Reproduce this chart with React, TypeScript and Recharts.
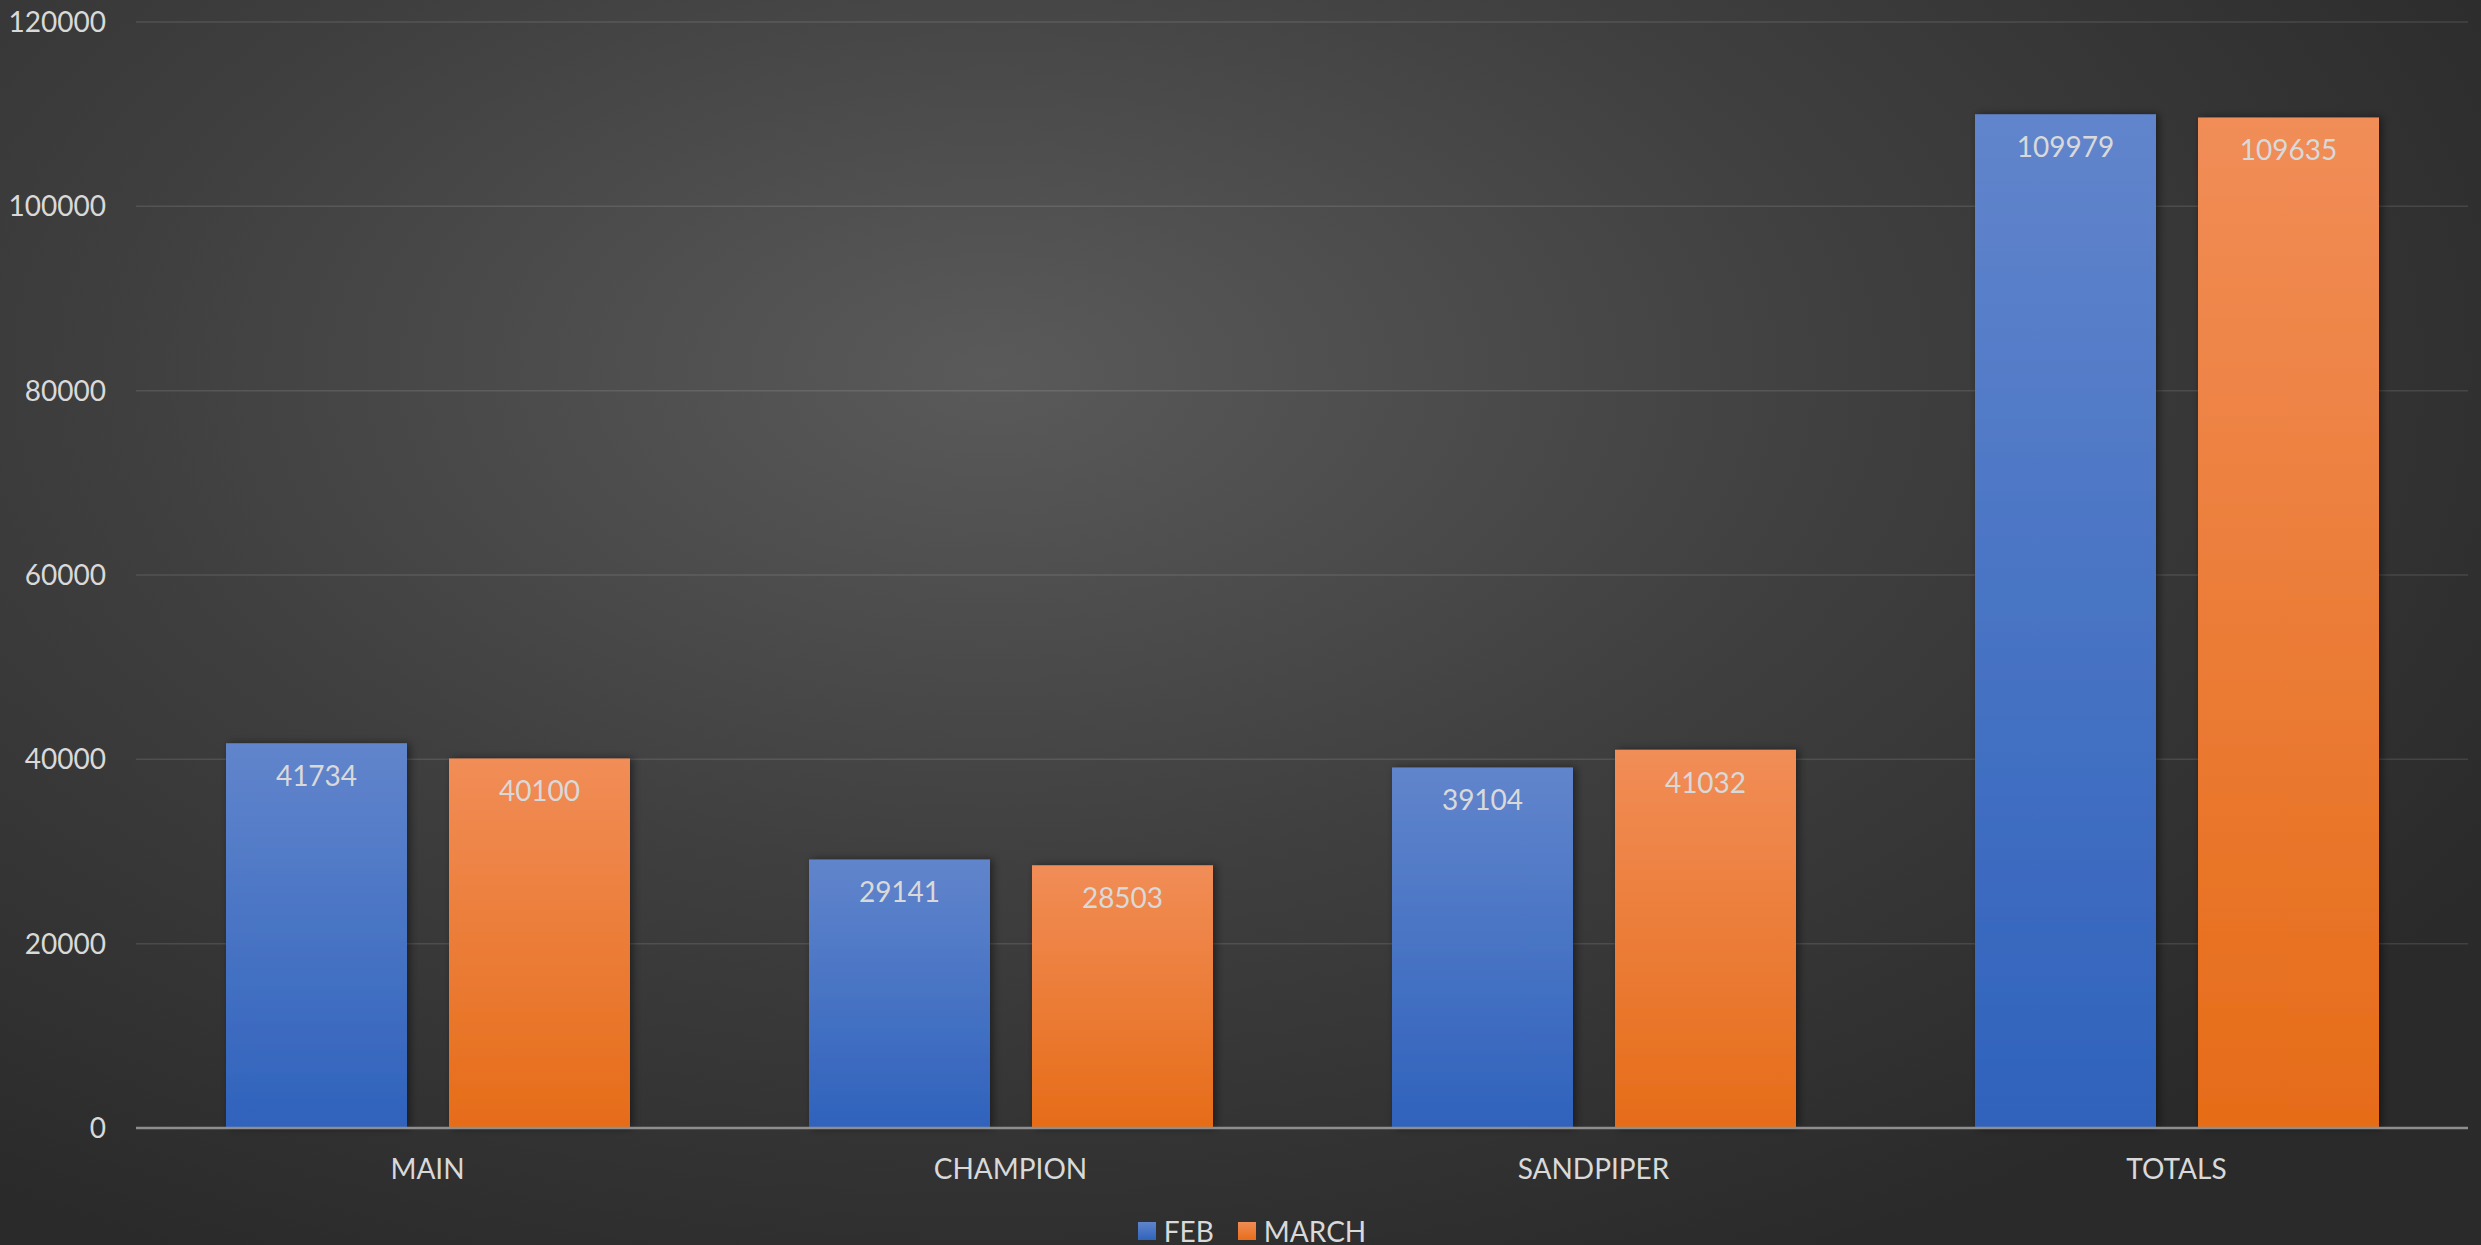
import { BarChart, Bar, XAxis, YAxis, CartesianGrid, Legend, LabelList } from 'recharts';

const categories = ['MAIN', 'CHAMPION', 'SANDPIPER', 'TOTALS'];
const febValues = [41734, 29141, 39104, 109979];
const marchValues = [40100, 28503, 41032, 109635];
const yTicks = [0, 20000, 40000, 60000, 80000, 100000, 120000];

const chartData = categories.map((name, i) => ({
  name,
  FEB: febValues[i],
  MARCH: marchValues[i]
}));

const FONT = 'Lato, "Open Sans", sans-serif';
const TEXT = '#d9d9d9';

const LegendContent = () => (
  <div style={{ display: 'flex', justifyContent: 'center', alignItems: 'center', gap: 24, height: 28, fontFamily: FONT, fontSize: 28, color: TEXT, paddingLeft: 36 }}>
    <span style={{ display: 'flex', alignItems: 'center', gap: 8 }}>
      <span style={{ width: 18, height: 18, background: 'linear-gradient(#5f84cb, #3064bd)' }}></span>
      FEB
    </span>
    <span style={{ display: 'flex', alignItems: 'center', gap: 8 }}>
      <span style={{ width: 18, height: 18, background: 'linear-gradient(#f08c55, #e86e1a)' }}></span>
      MARCH
    </span>
  </div>
);

export default function App() {
  return (
    <div
      style={{
        position: 'absolute',
        left: 0,
        top: 0,
        width: 2481,
        height: 1245,
        background: 'radial-gradient(ellipse 70% 80% at 40% 30%, #5a5a5a 0%, #3f3f3f 50%, #2a2a2a 100%)'
      }}
    >
      <BarChart
        width={2481}
        height={1245}
        data={chartData}
        margin={{ top: 22, right: 13, left: 0, bottom: 0 }}
        barSize={181}
        barGap={42}
      >
        <defs>
          <linearGradient id="febGrad" x1="0" y1="0" x2="0" y2="1">
            <stop offset="0%" stopColor="#6185cc" />
            <stop offset="100%" stopColor="#2f62bc" />
          </linearGradient>
          <linearGradient id="marchGrad" x1="0" y1="0" x2="0" y2="1">
            <stop offset="0%" stopColor="#f18d57" />
            <stop offset="100%" stopColor="#e66c18" />
          </linearGradient>
          <filter id="barShadow" x="-10%" y="-10%" width="130%" height="120%">
            <feDropShadow dx="3" dy="0" stdDeviation="4" floodColor="#000" floodOpacity="0.45" />
          </filter>
        </defs>
        <CartesianGrid vertical={false} stroke="rgba(255,255,255,0.11)" strokeWidth={1.5} />
        <XAxis
          dataKey="name"
          height={89}
          tickLine={false}
          tickSize={0}
          tickMargin={31}
          axisLine={{ stroke: '#8e8e8e', strokeWidth: 2.5 }}
          tick={{ fill: TEXT, fontSize: 28, fontFamily: FONT }}
        />
        <YAxis
          width={136}
          domain={[0, 120000]}
          ticks={yTicks}
          interval={0}
          tickLine={false}
          tickSize={0}
          tickMargin={30}
          axisLine={false}
          tick={{ fill: TEXT, fontSize: 28, fontFamily: FONT }}
        />
        <Legend verticalAlign="bottom" content={<LegendContent />} />
        <Bar dataKey="FEB" fill="url(#febGrad)" filter="url(#barShadow)" isAnimationActive={false}>
          <LabelList dataKey="FEB" position="insideTop" offset={23} fill={TEXT} fontSize={28} fontFamily={FONT} />
        </Bar>
        <Bar dataKey="MARCH" fill="url(#marchGrad)" filter="url(#barShadow)" isAnimationActive={false}>
          <LabelList dataKey="MARCH" position="insideTop" offset={23} fill={TEXT} fontSize={28} fontFamily={FONT} />
        </Bar>
      </BarChart>
    </div>
  );
}
